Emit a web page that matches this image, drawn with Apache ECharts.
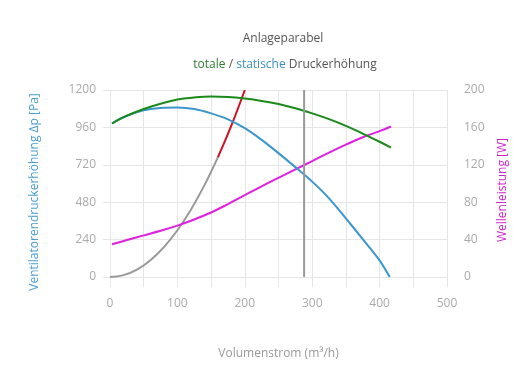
<!DOCTYPE html>
<html>
<head>
<meta charset="utf-8">
<script src="https://cdn.jsdelivr.net/npm/echarts@6/dist/echarts.min.js"></script>
<style>html,body{margin:0;padding:0;background:#fff}#c{width:530px;height:390px}</style>
</head>
<body>
<div id="c"></div>
<script>
// Volume flow (m³/h) samples and values
const staticX = [3, 20, 50, 75, 100, 125, 150, 175, 200, 225, 250, 275, 300, 325, 350, 375, 400, 415];
const staticP = [985, 1025, 1070, 1085, 1088, 1078, 1050, 1012, 955, 880, 795, 705, 612, 505, 376, 243, 107, 0];

const totalX = [3, 25, 50, 75, 100, 125, 150, 175, 200, 225, 250, 275, 300, 325, 350, 375, 400, 417];
const totalP = [985, 1035, 1078, 1112, 1139, 1152, 1158, 1155, 1145, 1130, 1110, 1083, 1050, 1013, 970, 920, 868, 830];

const systemX = [0, 20, 40, 60, 80, 100, 120, 140, 160];
const systemP = [0, 12, 48, 108, 192, 300, 432, 588, 768];

const systemRedX = [160, 170, 180, 190, 200];
const systemRedP = [768, 867, 972, 1083, 1200];

const powerX = [3, 25, 50, 75, 100, 125, 150, 175, 200, 225, 250, 275, 300, 325, 350, 375, 400, 417];
const powerW = [35, 39.5, 44.5, 49.5, 55, 61.5, 69, 78, 87.5, 97, 106, 115, 124, 133, 141.5, 149.5, 156, 161];

const operatingX = 288;

const titleText = 'Anlageparabel';
const xName = 'Volumenstrom (m³/h)';
const yLeftName = 'Ventilatorendruckerhöhung Δp [Pa]';
const yRightName = 'Wellenleistung [W]';

const zip = (xs, ys) => xs.map((x, i) => [x, ys[i]]);

const FONT = 'Open Sans';
const chart = echarts.init(document.getElementById('c'), null, {renderer: 'canvas'});
chart.setOption({
  animation: false,
  backgroundColor: '#fff',
  textStyle: {fontFamily: FONT},
  title: [{
    text: titleText,
    left: 278, top: 28, textAlign: 'center',
    textStyle: {fontSize: 12, fontWeight: 'normal', color: '#555', fontFamily: FONT}
  }, {
    text: '{g|totale} {k|/} {b|statische} {k|Druckerhöhung}',
    left: 280, top: 54, textAlign: 'center',
    textStyle: {
      fontSize: 12, fontWeight: 'normal', fontFamily: FONT,
      rich: {
        g: {color: '#2f7f2f', fontSize: 12, fontFamily: FONT},
        b: {color: '#3b8fc4', fontSize: 12, fontFamily: FONT},
        k: {color: '#555', fontSize: 12, fontFamily: FONT}
      }
    }
  }],
  graphic: [{
    type: 'text', x: 35, y: 192, rotation: Math.PI / 2,
    style: {text: yLeftName, fill: '#4a9fd0', font: '12px "Open Sans"', align: 'center', verticalAlign: 'middle'}
  }, {
    type: 'text', x: 503, y: 190, rotation: Math.PI / 2,
    style: {text: yRightName, fill: '#d020d0', font: '12px "Open Sans"', align: 'center', verticalAlign: 'middle'}
  }],
  grid: {left: 110, right: 83, top: 90, bottom: 113},
  xAxis: {
    type: 'value', min: 0, max: 500, interval: 50,
    name: xName, nameLocation: 'middle', nameGap: 71,
    nameTextStyle: {color: '#999', fontSize: 12, fontFamily: FONT},
    axisLine: {show: false},
    axisTick: {show: true, length: 10, lineStyle: {color: '#e6e6e6'}},
    axisLabel: {color: '#aaa', fontSize: 12, margin: 21, fontFamily: FONT,
      formatter: v => (v % 100 === 0 ? String(v) : '')},
    splitLine: {show: true, lineStyle: {color: '#e6e6e6'}}
  },
  yAxis: [{
    type: 'value', min: 0, max: 1200, interval: 240,
    axisLine: {show: false},
    axisTick: {show: true, length: 7, lineStyle: {color: '#e6e6e6'}},
    axisLabel: {color: '#aaa', fontSize: 12, margin: 14, fontFamily: FONT, formatter: v => String(v)},
    splitLine: {show: true, lineStyle: {color: '#e6e6e6'}}
  }, {
    type: 'value', min: 0, max: 200, interval: 40, position: 'right',
    axisLine: {show: false},
    axisTick: {show: false},
    axisLabel: {color: '#aaa', fontSize: 12, margin: 17, fontFamily: FONT, formatter: v => String(v)},
    splitLine: {show: false}
  }],
  series: [{
    type: 'line', data: zip(systemX, systemP), showSymbol: false, symbol: 'none',
    lineStyle: {color: '#999', width: 2}, smooth: 0.4, z: 2
  }, {
    type: 'line', data: zip(systemRedX, systemRedP), showSymbol: false, symbol: 'none',
    lineStyle: {color: '#cc1122', width: 2}, smooth: 0.4, z: 3
  }, {
    type: 'line', data: zip(powerX, powerW), yAxisIndex: 1, showSymbol: false, symbol: 'none',
    lineStyle: {color: '#e020e0', width: 2}, smooth: 0.4, z: 3
  }, {
    type: 'line', data: zip(staticX, staticP), showSymbol: false, symbol: 'none',
    lineStyle: {color: '#3a96cc', width: 2}, smooth: 0.3, z: 4
  }, {
    type: 'line', data: zip(totalX, totalP), showSymbol: false, symbol: 'none',
    lineStyle: {color: '#1a8a1a', width: 2}, smooth: 0.4, z: 5
  }, {
    type: 'line', data: [[operatingX, 0], [operatingX, 1200]], showSymbol: false, symbol: 'none',
    lineStyle: {color: '#999', width: 2}, z: 6
  }]
});
</script>
</body>
</html>
